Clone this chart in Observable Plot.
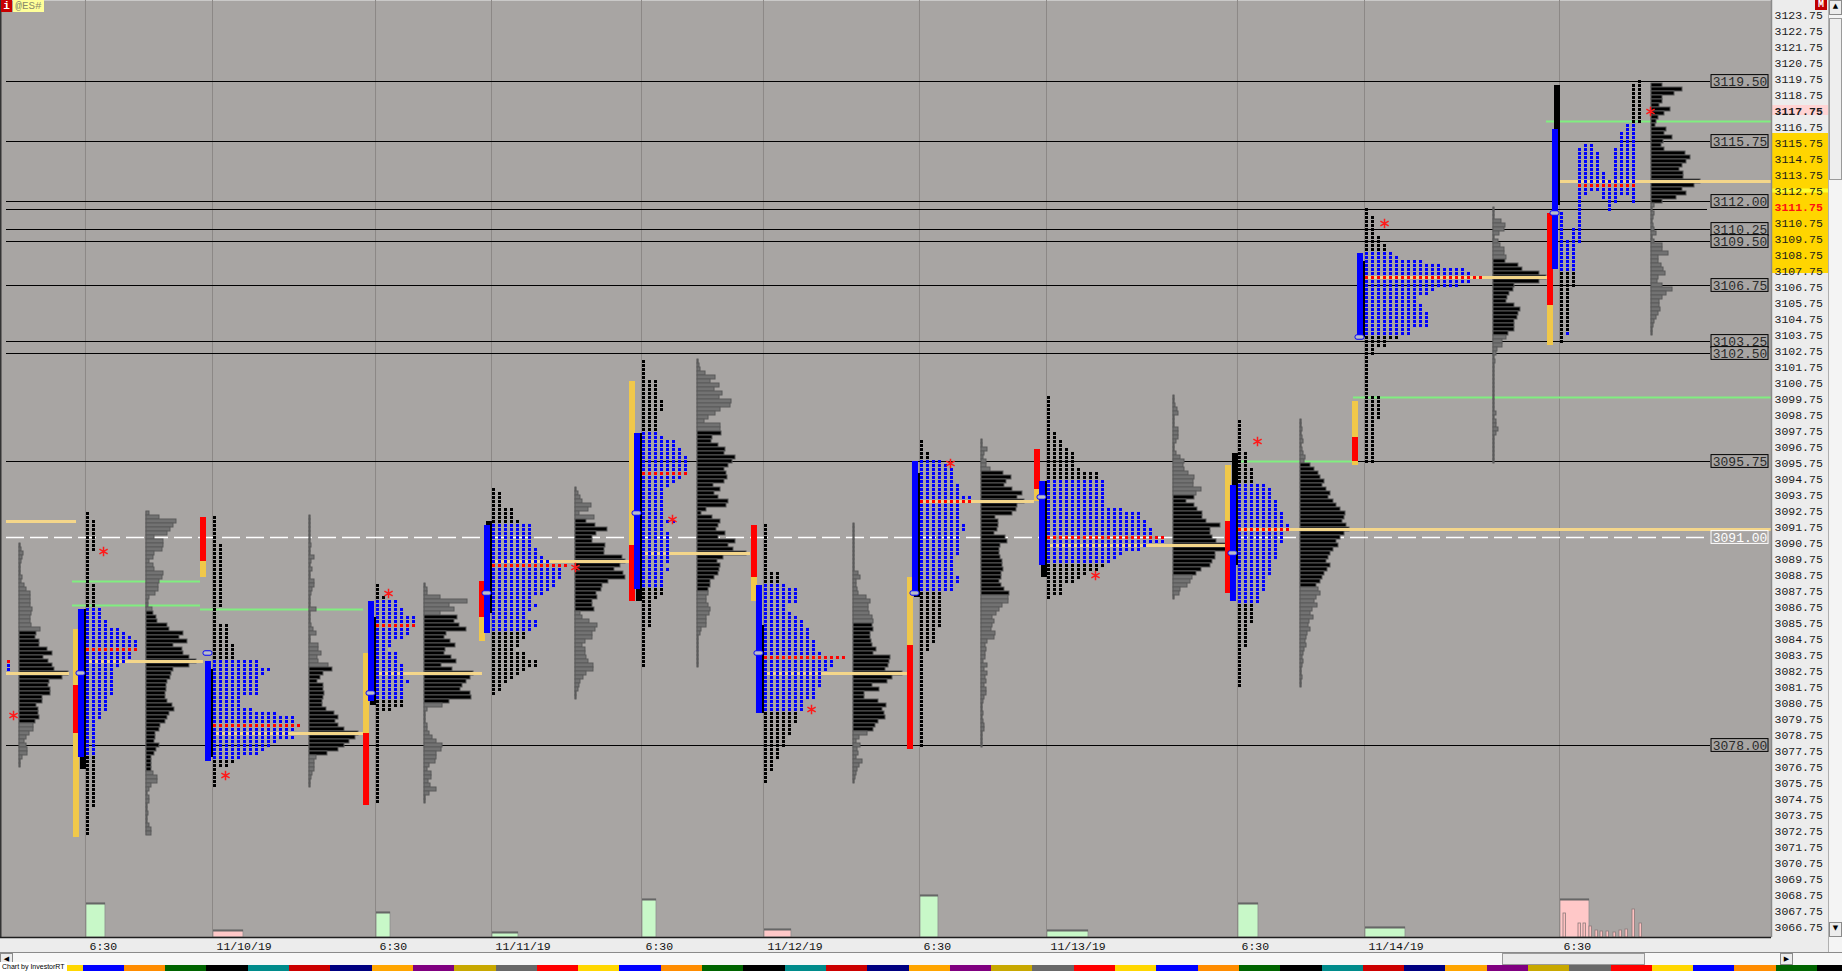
<!DOCTYPE html>
<html><head><meta charset="utf-8">
<script src="https://cdn.jsdelivr.net/npm/d3@7"></script>
<script src="https://cdn.jsdelivr.net/npm/@observablehq/plot@0.6"></script>
<style>
html,body{margin:0;padding:0}
body{width:1842px;height:971px;overflow:hidden;background:#ececec;position:relative;font-family:"Liberation Mono","DejaVu Sans Mono",monospace}
#chart svg{display:block}
.abs{position:absolute;box-sizing:border-box}
#hscroll{height:13px;background:#f7f7f7;border-top:1px solid #8a8a8a;position:relative;box-sizing:border-box}
#stripe{height:6px;display:flex;overflow:hidden}
#stripe div{flex:0 0 41.3px;height:6px}
.btn{background:#ececec;border:1px solid #8a8a8a;font-family:"DejaVu Sans";font-size:7px;line-height:11px;text-align:center;color:#000}
</style></head>
<body>
<div id="chart"></div>
<div id="hscroll">
 <div class="abs btn" style="left:0;top:0;width:13px;height:12px">◀</div>
 <div class="abs" style="left:1502px;top:0;width:143px;height:12px;background:#eaeaea;border:1px solid #9a9a9a"></div>
 <div class="abs btn" style="left:1780px;top:0;width:13px;height:12px">▶</div>
</div>
<div id="stripe"></div>
<div class="abs" style="left:0;top:962px;height:9px;padding:0 2px;background:#fff;font:7px 'Liberation Sans';line-height:9px;color:#000;white-space:nowrap">Chart by InvestorRT</div>
<div class="abs" style="left:1px;top:0;width:11px;height:12px;background:#c80000;color:#fff;font:bold 11px 'Liberation Mono';line-height:12px;text-align:center">i</div>
<div class="abs" style="left:13px;top:0;width:31px;height:12px;background:#ffff99;color:#8a8a6a;font:11px 'Liberation Mono';line-height:12px;text-align:center">@ES#</div>
<div class="abs" style="left:1815px;top:0;width:12px;height:10px;background:#c00000;color:#fff;font:bold 10px 'Liberation Mono';line-height:10px;text-align:center">M</div>
<div class="abs" style="left:1828px;top:0;width:14px;height:952px;background:#f4f4f4;border-left:1px solid #b0b0b0">
 <div class="abs btn" style="left:0;top:0;width:13px;height:15px">▲</div>
 <div class="abs" style="left:0;top:18px;width:13px;height:162px;background:#eeeeee;border:1px solid #9a9a9a"></div>
 <div class="abs btn" style="left:0;top:922px;width:13px;height:15px">▼</div>
</div>
<script>
// ---------- sessions (x in TPO column slots) ----------
const sessionStart = [14.33, 35.5, 62.67, 82, 107, 127.33, 153.33, 174.5, 206.33, 227.5, 260];
const xLabels = ["6:30","11/10/19","6:30","11/11/19","6:30","11/12/19","6:30","11/13/19","6:30","11/14/19","6:30"];

// ---------- TPO profiles S1..S10: widths per 0.25 row from top ----------
const tpoTop    = [3092.5, 3092.25, 3088.0, 3094.0, 3102.0, 3091.75, 3097.0, 3099.75, 3098.25, 3111.5];
const tpoVAHigh = [3086.5, 3083.25, 3087.0, 3091.75, 3097.5, 3088.0, 3095.75, 3094.5, 3094.25, 3108.75];
const tpoVALow  = [3077.5, 3077.25, 3081.0, 3085.25, 3088.0, 3080.25, 3087.75, 3089.5, 3087.0, 3103.75];
const tpoPOC    = [3084.0, 3079.25, 3085.5, 3089.25, 3095.0, 3083.5, 3093.25, 3091.0, 3091.5, 3107.25];
const tpo1 = [1,1,2,2,2,2,2,2,2,2,1,1,1,1,1,1,1,1,2,2,2,2,2,2,3,3,3,4,4,6,7,8,9,9,9,8,8,7,6,5,5,5,5,5,5,5,4,4,4,4,3,3,2,2,2,2,2,2,2,2,2,2,2,2,2,2,2,2,2,2,2,2,2,2,1,1,1,1,1,1,1];
const tpo2 = [1,1,1,1,1,1,1,2,2,2,2,2,2,2,2,2,2,2,2,2,2,2,2,1,1,1,1,3,3,3,3,3,4,4,4,4,8,8,10,9,8,8,8,8,8,5,5,5,7,11,14,14,15,14,13,14,11,10,9,8,5,4,3,1,1,1,1,1];
const tpo3 = [1,1,1,2,4,4,5,5,7,7,7,6,6,5,3,3,2,4,4,4,5,5,5,5,6,5,5,5,5,5,5,3,1,1,1,1,1,1,1,1,1,1,1,1,1,1,1,1,1,1,1,1,1,1,1];
const tpo4 = [1,2,2,2,2,4,4,4,5,7,7,7,7,7,7,8,8,9,10,13,12,12,12,11,11,10,9,7,7,8,7,6,6,8,8,7,6,6,5,5,4,6,6,8,8,6,5,4,3,2,2,1];
const tpo5 = [1,1,1,1,1,3,3,3,3,3,4,4,4,3,3,3,3,3,3,4,6,6,7,7,8,8,8,8,8,7,6,5,4,4,4,4,4,4,4,4,6,4,4,5,5,5,5,5,5,5,5,4,5,4,4,4,4,4,4,3,2,2,2,2,2,2,2,1,1,1,1,1,1,1,1,1,1];
const tpo6 = [1,1,1,1,1,1,1,1,1,1,1,1,3,3,3,4,6,6,6,6,4,4,5,6,7,7,8,8,8,9,9,9,10,14,12,12,11,10,10,10,10,9,9,9,7,7,7,6,6,6,5,5,5,4,4,4,3,3,3,2,2,2,1,1,1];
const tpo7 = [1,1,1,2,2,4,5,6,6,6,6,7,7,7,9,9,7,7,7,7,7,8,8,7,7,7,7,7,7,6,6,6,6,6,7,7,6,6,4,4,4,4,4,4,4,4,4,3,3,3,3,2,2,1,1,1,1,1,1,1,1,1,1,1,1,1,1,1,1,1,1,1,1,1,1,1,1];
const tpo8 = [1,1,1,1,1,1,1,1,1,2,2,3,3,4,5,5,5,5,6,9,9,10,10,10,10,10,10,10,13,16,16,17,17,18,18,20,20,17,16,13,12,11,10,9,7,6,5,3,3,3,1];
const tpo9 = [1,1,1,1,1,1,1,1,2,2,2,2,3,3,3,3,5,6,6,6,7,7,7,8,8,8,9,9,8,8,8,7,7,7,7,6,6,6,6,5,5,5,5,4,4,4,3,3,3,3,3,2,2,2,2,2,2,1,1,1,1,1,1,1,1,1,1];
const tpo10 = [1,1,2,2,2,2,2,3,3,4,4,5,6,10,13,17,18,20,18,16,12,11,9,9,10,10,11,11,11,11,8,8,6,4,4,2,2,1,1,1,1,1,1,1,1,1,1,3,3,3,3,3,3,2,2,2,2,2,2,2,2,2,2,2];
const tpoWidths = [tpo1,tpo2,tpo3,tpo4,tpo5,tpo6,tpo7,tpo8,tpo9,tpo10];

// current session S11: TPO columns [column, high, low, kind]
const s11Cols = [
  [0,3111.25,3107.75,"b"],[0,3107.5,3103.25,"k"],
  [1,3109.5,3107.75,"b"],[1,3107.5,3104.0,"k"],[1,3103.75,3103.75,"b"],
  [2,3110.25,3107.75,"b"],[2,3107.5,3106.75,"k"],
  [3,3115.25,3109.5,"b"],[4,3115.5,3112.5,"b"],[5,3115.5,3112.75,"b"],
  [6,3115.0,3112.75,"b"],[7,3113.75,3112.25,"b"],[8,3113.25,3111.5,"b"],
  [9,3115.25,3112.0,"b"],[10,3116.25,3112.5,"b"],[11,3116.75,3112.5,"b"],
  [12,3119.25,3117.0,"k"],[12,3116.75,3112.0,"b"],[13,3119.5,3117.0,"k"]
];
const s11POC = 3113.0;
// stray prints at left edge
const strayP = [3083.25, 3083.0, 3082.75];
const strayKind = ["r","b","b"];

// ---------- volume histograms S0..S11 (widths per 0.25 row from top) ----------
const histX      = [3.17, 24.33, 51.5, 70.67, 95.83, 116.17, 142.17, 163.5, 195.5, 216.67, 248.83, 275.17];
const histTop    = [3090.5, 3092.5, 3092.25, 3088.0, 3094.0, 3102.0, 3091.75, 3097.0, 3099.75, 3098.25, 3111.5, 3119.25];
const histVAHigh = [3085.0, 3086.25, 3082.75, 3086.0, 3092.0, 3097.5, 3085.5, 3095.0, 3093.5, 3095.5, 3108.25, 3119.25];
const histVALow  = [3079.5, 3076.5, 3077.5, 3080.75, 3086.5, 3087.75, 3079.0, 3087.5, 3088.75, 3088.0, 3103.75, 3112.0];
const vol0 = [1,2,4,3,2,1,1,1,3,2,5,7,11,11,11,11,13,12,11,11,12,21,17,16,20,20,28,33,24,29,33,35,49,43,30,29,31,31,23,23,17,19,19,20,16,14,14,10,7,5,7,8,8,3,1,1];
const vol1 = [3,13,30,27,24,21,8,17,17,16,8,7,3,7,8,17,16,13,12,12,9,3,2,2,6,7,10,11,21,23,37,33,41,27,36,37,43,50,43,27,25,24,21,20,20,19,19,21,26,28,23,21,19,14,13,9,9,8,13,10,8,5,5,5,5,7,11,11,5,3,1,3,3,1,1,2,1,1,3,5,5];
const vol2 = [1,1,1,1,1,1,1,2,1,1,5,2,1,3,1,1,5,5,3,2,1,1,1,7,1,1,1,2,4,7,1,1,9,9,12,8,9,19,23,14,11,8,14,14,15,14,13,13,17,25,29,26,29,35,49,46,40,35,29,18,7,5,5,5,3,2,1,1];
const vol3 = [1,3,3,16,43,25,30,16,33,30,35,42,22,20,26,31,21,20,27,32,17,28,49,46,42,38,36,46,47,25,18,3,1,1,1,3,3,5,8,12,18,17,12,12,11,5,3,7,7,4,6,12,5,1,1];
const vol4 = [1,3,5,7,16,13,4,19,11,20,32,21,17,17,30,29,29,47,50,45,39,48,50,33,27,26,21,22,17,17,19,5,7,14,22,20,17,17,10,7,10,10,11,13,18,18,11,8,5,4,3,1,1];
const vol5 = [1,2,3,8,18,13,22,17,25,22,34,33,23,18,11,7,23,23,24,15,14,21,28,27,38,35,31,27,29,30,27,16,23,17,21,31,29,9,4,15,23,21,19,28,21,38,31,36,49,26,20,23,22,21,17,13,13,11,11,9,9,11,13,12,9,9,9,4,3,1,1,1,1,1,1,1,1];
const vol6 = [1,1,1,1,1,1,1,1,1,1,1,1,5,7,3,3,4,5,13,17,15,15,16,19,20,19,20,17,17,18,19,23,20,37,36,35,32,49,39,34,19,26,11,11,25,33,29,31,32,25,22,20,14,6,3,7,4,5,3,9,6,4,3,2,1];
const vol7 = [1,1,6,3,2,5,5,9,22,30,25,23,31,41,36,43,36,35,31,14,17,17,16,13,24,26,19,18,18,19,21,21,22,20,20,18,20,23,28,27,27,21,18,15,11,13,11,10,14,13,6,4,5,4,4,2,6,3,6,4,5,3,5,5,3,2,1,1,2,1,2,3,3,1,1,1,1];
const vol8 = [1,1,2,4,5,1,1,1,5,5,5,3,1,1,3,7,11,10,11,15,21,20,20,28,23,21,13,21,24,29,29,33,47,37,37,39,43,53,53,42,42,39,37,28,23,19,17,14,7,6,1];
const vol9 = [1,1,2,1,2,3,1,2,3,5,4,10,14,18,20,24,22,26,30,28,33,36,40,45,44,42,46,49,44,40,36,38,33,30,28,26,30,27,24,22,20,16,18,20,16,14,17,12,10,13,9,8,10,7,6,5,6,4,3,2,3,2,1,1,2,1,1];
const vol10 = [1,1,1,8,12,11,6,1,5,7,11,11,13,12,25,29,46,53,46,21,20,16,14,13,21,27,25,24,21,21,21,15,13,9,9,4,3,1,2,1,1,1,1,1,1,1,1,1,1,1,1,3,1,3,3,5,3,1,1,1,1,1,1,1];
const vol11 = [11,31,23,11,11,8,19,13,7,5,4,15,13,21,12,10,13,34,39,35,31,28,32,32,49,43,31,35,25,11,3,1,3,2,1,2,3,5,1,3,11,11,17,7,7,10,12,14,7,6,11,21,15,11,8,8,9,7,5,3,2,1,1];
const vols = [vol0,vol1,vol2,vol3,vol4,vol5,vol6,vol7,vol8,vol9,vol10,vol11];

// ---------- session range bars S1..S11 ----------
const yelHi  = [3085.25,3092.25,3083.75,3088.25,3100.75,3091.75,3088.5,3096.5,3095.5,3099.5,3111.25];
const yelLo  = [3072.25,3088.5,3074.25,3084.5,3087.0,3087.0,3077.75,3093.25,3087.5,3095.5,3103.0];
const redHi  = [3081.75,3092.25,3078.75,3088.25,3090.5,3091.75,3084.25,3096.5,3092.0,3097.25,3111.25];
const redLo  = [3078.75,3089.5,3074.25,3086.0,3087.0,3088.5,3077.75,3094.0,3087.5,3095.75,3105.5];
const blueHi = [3086.5,3083.25,3087.0,3091.75,3097.5,3088.0,3095.75,3094.5,3094.25,3108.75,3116.5];
const blueLo = [3077.25,3077.0,3080.75,3085.0,3087.75,3080.0,3087.5,3089.25,3087.0,3103.5,3107.75];
const blkHi  = [3086.5,3082.75,3086.0,3092.0,3097.5,3085.5,3095.0,3094.5,3096.25,3108.25,3119.25];
const blkLo  = [3076.5,3077.25,3080.5,3086.25,3087.0,3080.0,3087.25,3088.5,3089.25,3103.5,3111.75];
const openP  = [3082.5,3083.75,3081.25,3087.5,3092.5,3083.75,3087.5,3093.5,3090.0,3103.5,3111.25];

// ---------- single-print / extreme markers ----------
const astX = [2.17,17.17,37.5,64.67,95.83,112,135.17,158.33,182.5,209.5,230.67,275];
const astP = [3079.875,3090.125,3076.125,3087.5,3089.125,3092.125,3080.25,3095.625,3088.625,3097.0,3110.625,3117.625];

// ---------- bottom volume pane ----------
const volW = [19,30,14,26,14,27,18,41,20,40,29];      // column width
const volH = [34,7,25,5,38,8,42,7,34,10,38];          // volume height
const volUp = [true,false,true,true,true,false,true,true,true,true,false];
const spikeX = [260.5,263,263.83,264.83,265.83,266.67,267.67,268.83,269.83,270.83,272,273.17];
const spikeH = [24,14,14,11,7,6,6,5,7,8,28,14];

// ---------- horizontal reference levels ----------
const levels = [3119.5,3115.75,3112.0,3110.25,3109.5,3106.75,3103.25,3102.5,3095.75,3078.0];
const dashedLevel = 3091.0;
const extraLevel = 3111.5;
const greenP  = [3088.25,3086.75,3086.5,3095.75,3099.75,3117.0];
const greenX1 = [12,12,33.33,206.33,225.5,257.67];
const greenX2 = [33.33,33.33,60.5,225.67,295.17,295.17];
const pocP  = [3092.0,3082.5,3083.25,3078.75,3082.5,3089.5,3090.0,3082.5,3093.25,3090.5,3091.5,3107.25,3113.25];
const pocX1 = [1,1,14.33,35.5,62.67,82,107,127.33,153.33,174.5,206.33,227.5,260];
const pocX2 = [12.67,11.5,33.83,60.5,80.33,104.83,125,151.17,172.33,204.5,295.17,257.83,295.17];

// ---------- price axis ----------
const yTicks = d3.range(3066.75, 3124, 1);
const boldTick = 3117.75, redTick = 3111.75;

// ================= build rows =================
const BLUE="#0000ff", RED="#ff0000", BLACK="#000000";
const tpoRows = [];
tpoWidths.forEach((arr, s) => arr.forEach((n, i) => {
  const p = tpoTop[s] - 0.25 * i;
  const c = p === tpoPOC[s] ? RED : (p <= tpoVAHigh[s] && p >= tpoVALow[s] ? BLUE : BLACK);
  tpoRows.push({p, x1: sessionStart[s], x2: sessionStart[s] + n, c});
}));
const cells = [];
s11Cols.forEach(([col, hi, lo, k]) => {
  for (let p = hi; p >= lo - 1e-9; p -= 0.25) {
    const c = p === s11POC && col >= 3 ? RED : (k === "b" ? BLUE : BLACK);
    cells.push({x: sessionStart[10] + col, p, c});
  }
});
strayP.forEach((p, i) => cells.push({x: 1.17, p, c: strayKind[i] === "r" ? RED : BLUE}));

const histRows = [];
const histSpan = [];
vols.forEach((arr, s) => {
  arr.forEach((w, i) => {
    const p = histTop[s] - 0.25 * i;
    const va = p <= histVAHigh[s] && p >= histVALow[s];
    histRows.push({p, x1: histX[s], x2: histX[s] + w / 6, f: va ? "#000000" : "#727272"});
  });
  histSpan.push({x: histX[s], hi: histTop[s] + 0.125, lo: histTop[s] - 0.25 * (arr.length - 1) - 0.125});
});

const S = d3.range(sessionStart.length);
const yMin = 3066, yMax = 3124.5625;
const plotRight = 1771 / 6, panelRight = 1828 / 6;
const font = "Liberation Mono";
const allLabels = [...levels, dashedLevel];

const chart = Plot.plot({
  width: 1842, height: 952,
  marginLeft: 0, marginRight: 71, marginTop: 0, marginBottom: 15,
  x: {domain: [0, plotRight]},
  y: {domain: [yMin, yMax]},
  color: {type: "identity"},
  style: {background: "#ececec", fontFamily: font, overflow: "visible"},
  marks: [
    Plot.frame({fill: "#a8a5a3", stroke: "none"}),
    // price axis panel highlights
    Plot.rect([0], {x1: plotRight, x2: panelRight, y1: 3116.25, y2: 3107.5, fill: "#ffd500"}),
    Plot.rect([0], {x1: plotRight, x2: panelRight, y1: 3118.0, y2: 3117.375, fill: "#ffd4d4"}),
    Plot.ruleY([3112.69], {x1: plotRight, x2: panelRight, stroke: "#ffff30", strokeWidth: 4}),
    // bottom volume pane
    Plot.rect(S, {x1: s => sessionStart[s], x2: s => sessionStart[s] + volW[s] / 6, y1: yMin, y2: s => yMin + volH[s] / 16,
      fill: s => volUp[s] ? "#c8f8c8" : "#ffc8c8", stroke: "#8e8e8e", strokeWidth: 0.8}),
    Plot.ruleY(S, {x1: s => sessionStart[s], x2: s => sessionStart[s] + volW[s] / 6, y: s => yMin + volH[s] / 16, stroke: "#666", strokeWidth: 2}),
    Plot.rect(d3.range(spikeX.length), {x1: i => spikeX[i], x2: i => spikeX[i] + 0.4, y1: yMin, y2: i => yMin + spikeH[i] / 16, fill: "#ffc0c0", stroke: "#8a7a7a", strokeWidth: 0.8}),
    // session separators
    Plot.ruleX(sessionStart, {stroke: "#8c8886", dx: -1}),
    // reference levels
    Plot.ruleY(levels, {x1: 1, x2: 285, stroke: "#000"}),
    Plot.ruleY([extraLevel], {x1: 1, x2: 284.5, stroke: "#000"}),
    Plot.ruleY(d3.range(greenP.length), {y: i => greenP[i], x1: i => greenX1[i], x2: i => greenX2[i], stroke: "#80ee80", strokeWidth: 2}),
    Plot.ruleY([dashedLevel], {x1: 1, x2: 285, stroke: "#ffffff", strokeDasharray: "18,6", strokeWidth: 1.5}),
    // volume histograms
    Plot.ruleX(histSpan, {x: "x", y1: "hi", y2: "lo", stroke: "#5e5e5e", strokeWidth: 1.5}),
    Plot.rect(histRows, {x1: "x1", x2: "x2", y1: d => d.p + 0.125, y2: d => d.p - 0.125, fill: "f", stroke: "#5a5a5a", strokeWidth: 1}),
    // POC extension lines
    Plot.ruleY(d3.range(pocP.length), {y: i => pocP[i], x1: i => pocX1[i], x2: i => pocX2[i], stroke: "#f4d68a", strokeWidth: 3}),
    // range bars
    Plot.rect(S, {x1: s => sessionStart[s] - 13 / 6, x2: s => sessionStart[s] - 7 / 6, y1: s => yelHi[s], y2: s => yelLo[s], fill: "#f0c84a"}),
    Plot.rect(S, {x1: s => sessionStart[s] - 13 / 6, x2: s => sessionStart[s] - 7 / 6, y1: s => redHi[s], y2: s => redLo[s], fill: "#ff0000"}),
    Plot.rect(S, {x1: s => sessionStart[s] - 1, x2: s => sessionStart[s], y1: s => blkHi[s], y2: s => blkLo[s], fill: "#000"}),
    Plot.rect(S, {x1: s => sessionStart[s] - 8 / 6, x2: s => sessionStart[s] - 2 / 6, y1: s => blueHi[s], y2: s => blueLo[s], fill: "#0000ff"}),
    // TPO profiles
    Plot.ruleY(tpoRows, {y: "p", x1: "x1", x2: "x2", stroke: "c", strokeWidth: 3, strokeDasharray: "3,3"}),
    Plot.ruleY(cells, {y: "p", x1: "x", x2: d => d.x + 0.5, stroke: "c", strokeWidth: 3}),
    // open markers
    Plot.rect(S, {x1: s => sessionStart[s] - 10 / 6, x2: s => sessionStart[s] - 1 / 6, y1: s => openP[s] + 0.14, y2: s => openP[s] - 0.14, fill: "#b8bcc8", stroke: "#0000ff", strokeWidth: 1, rx: 2}),
    // asterisks
    Plot.dot(d3.range(astX.length), {x: i => astX[i], y: i => astP[i], symbol: "asterisk", r: 4.5, stroke: "#ff1a1a", strokeWidth: 1.5}),
    // level label boxes
    Plot.rect(allLabels, {x1: 285.17, x2: 294.67, y1: d => d + 0.4, y2: d => d - 0.4, fill: "#a8a5a3", stroke: d => d === dashedLevel ? "#ffffff" : "#000000"}),
    Plot.text(allLabels, {x: 289.92, y: d => d, text: d => d.toFixed(2), fill: d => d === dashedLevel ? "#ffffff" : "#2a2a2a", fontSize: 13, fontFamily: font}),
    // frame borders
    Plot.ruleX([0], {stroke: "#333", strokeWidth: 2}),
    Plot.ruleX([plotRight], {stroke: "#8a8a8a", strokeWidth: 1.5}),
    Plot.ruleY([yMin], {stroke: "#1e1e1e", strokeWidth: 1.5}),
    // axes
    Plot.axisY(yTicks, {anchor: "right", tickSize: 0, tickPadding: 3, label: null, fontSize: 11.5, fontFamily: font, fill: "#1a1a1a", dy: 2,
      tickFormat: d => (d === boldTick || d === redTick) ? "" : d.toFixed(2)}),
    Plot.text([boldTick], {x: plotRight, y: d => d, dx: 3, dy: 2, textAnchor: "start", text: d => d.toFixed(2), fontSize: 11.5, fontWeight: "bold", fill: "#1a1a1a", fontFamily: font}),
    Plot.text([redTick], {x: plotRight, y: d => d, dx: 3, dy: 2, textAnchor: "start", text: d => d.toFixed(2), fontSize: 11.5, fontWeight: "bold", fill: "#ff1010", fontFamily: font}),
    Plot.axisX(sessionStart, {anchor: "bottom", tickSize: 0, tickPadding: 4, label: null, textAnchor: "start", dx: 3, fontSize: 11.5, fontFamily: font, fill: "#111",
      tickFormat: d => xLabels[sessionStart.indexOf(d)]})
  ]
});
document.getElementById("chart").appendChild(chart);

// bottom colour strip
const stripeColors = ["#ff0000","#ffd700","#0000ff","#ff8c00","#006400","#000000","#008b8b","#cc0000","#000080","#ffa500","#800080","#c8a800","#696969"];
const stripe = document.getElementById("stripe");
for (let k = 0; k < 46; k++) {
  const d = document.createElement("div");
  d.style.background = stripeColors[k % stripeColors.length];
  stripe.appendChild(d);
}
</script>
</body></html>
